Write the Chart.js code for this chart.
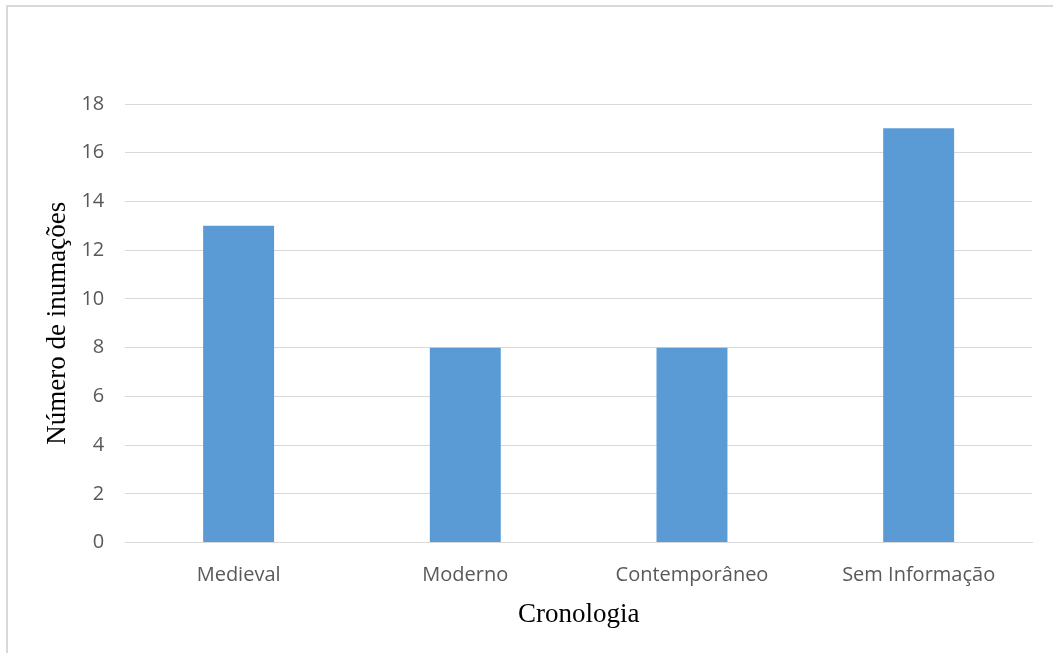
<!DOCTYPE html>
<html>
<head>
<meta charset="utf-8">
<script src="https://cdn.jsdelivr.net/npm/chart.js@4"></script>
<style>
  html, body { margin: 0; padding: 0; background: #fff; overflow: hidden; }
  #frame { position: absolute; left: 6px; top: 5px; width: 1100px; height: 700px; border: 2px solid #d9d9d9; box-sizing: border-box; }
  #wrap { position: absolute; left: 0; top: 0; width: 1053px; height: 653px; }
</style>
</head>
<body>
<div id="frame"></div>
<div id="wrap"><canvas id="chart"></canvas></div>
<script>
  var categories = ["Medieval", "Moderno", "Contemporâneo", "Sem Informação"];
  var inumacoes = [13, 8, 8, 17];
  var yTicks = [0, 2, 4, 6, 8, 10, 12, 14, 16, 18];

  var tickFont = { family: '"Open Sans", sans-serif', size: 20 };
  var titleFont = { family: '"Liberation Serif", "Times New Roman", serif', size: 27 };

  new Chart(document.getElementById("chart"), {
    type: "bar",
    data: {
      labels: categories,
      datasets: [{
        label: "Número de inumações",
        data: inumacoes,
        backgroundColor: "#5b9bd5",
        borderWidth: 0,
        categoryPercentage: 1,
        barPercentage: 0.313
      }]
    },
    options: {
      responsive: true,
      maintainAspectRatio: false,
      animation: false,
      layout: { padding: { left: 42, right: 21, top: 104, bottom: 22 } },
      plugins: {
        legend: { display: false },
        tooltip: { enabled: false }
      },
      scales: {
        x: {
          grid: { display: false, drawTicks: false },
          border: { display: true, color: "#d9d9d9", width: 1 },
          ticks: { color: "#595959", font: tickFont, padding: 21, maxRotation: 0 },
          title: { display: true, text: "Cronologia", color: "#000", font: titleFont, padding: { top: -10, bottom: 0 } }
        },
        y: {
          min: 0,
          max: 18,
          afterBuildTicks: function (axis) {
            axis.ticks = yTicks.map(function (v) { return { value: v }; });
          },
          grid: { color: "#d9d9d9", lineWidth: 1, drawTicks: false },
          border: { display: false },
          ticks: { color: "#595959", font: tickFont, padding: 21 },
          title: { display: true, text: "Número de inumações", color: "#000", font: titleFont, padding: { top: 0, bottom: -14 } }
        }
      }
    }
  });
</script>
</body>
</html>
